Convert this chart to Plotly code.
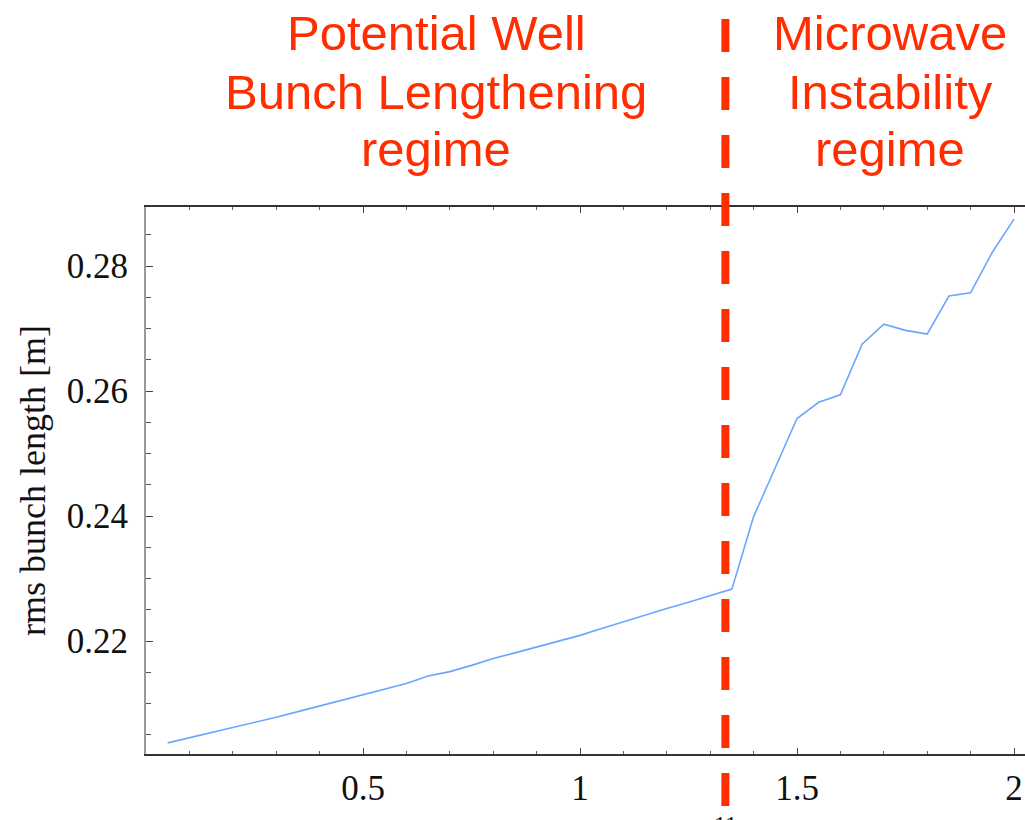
import plotly.graph_objects as go

# Data
intensity = [0.05, 0.10, 0.15, 0.20, 0.25, 0.30, 0.35, 0.40, 0.45, 0.50,
             0.55, 0.60, 0.65, 0.70, 0.75, 0.80, 0.85, 0.90, 0.95, 1.00,
             1.05, 1.10, 1.15, 1.20, 1.25, 1.30, 1.35, 1.40, 1.45, 1.50,
             1.55, 1.60, 1.65, 1.70, 1.75, 1.80, 1.85, 1.90, 1.95, 2.00]
bunch_length = [0.2037, 0.2045, 0.2053, 0.2061, 0.2070, 0.2078, 0.2087, 0.2096, 0.2105, 0.2113,
                0.2122, 0.2132, 0.2144, 0.2151, 0.2161, 0.2172, 0.2181, 0.2190, 0.2199, 0.2209,
                0.2220, 0.2231, 0.2241, 0.2252, 0.2262, 0.2272, 0.2283, 0.2399, 0.2478, 0.2556,
                0.2582, 0.2594, 0.2675, 0.2707, 0.2697, 0.2691, 0.2752, 0.2757, 0.2822, 0.2875]
threshold = 1.335
x_ticks = [0.5, 1, 1.5, 2]
x_ticklabels = ["0.5", "1", "1.5", "2"]
y_ticks = [0.22, 0.24, 0.26, 0.28]
y_ticklabels = ["0.22", "0.24", "0.26", "0.28"]
left_text = ["Potential Well", "Bunch Lengthening", "regime"]
right_text = ["Microwave", "Instability", "regime"]

RED = "#ff2d00"
W, H = 1025, 820
L, R, T, B = 146, 0, 207, 66
ph = H - T - B

def py(p):
    return (H - B - p) / ph

fig = go.Figure()
fig.add_trace(go.Scatter(x=intensity, y=bunch_length, mode="lines",
                         line=dict(color="#6aa6ff", width=1.6), showlegend=False,
                         hoverinfo="skip"))

fig.add_shape(type="line", xref="x", yref="paper", x0=threshold, x1=threshold,
              y0=py(19), y1=py(806), line=dict(color=RED, width=8, dash="33px,25px"),
              layer="above")

line_y = [33, 92, 149]
for txt, yy in zip(left_text, line_y):
    fig.add_annotation(x=(436 - L) / (W - L - R), y=py(yy), xref="paper", yref="paper",
                       text=txt, showarrow=False, xanchor="center", yanchor="middle",
                       font=dict(family="Liberation Sans, Arial", size=49, color=RED))
for txt, yy in zip(right_text, line_y):
    fig.add_annotation(x=(890 - L) / (W - L - R), y=py(yy), xref="paper", yref="paper",
                       text=txt, showarrow=False, xanchor="center", yanchor="middle",
                       font=dict(family="Liberation Sans, Arial", size=49, color=RED))

fig.add_annotation(x=threshold, y=py(809), xref="x", yref="paper", text="11",
                   showarrow=False, xanchor="center", yanchor="top",
                   font=dict(family="Liberation Serif, Times New Roman", size=24, color="#111"))

fig.update_layout(
    width=W, height=H,
    margin=dict(l=L, r=R, t=T, b=B, autoexpand=False),
    paper_bgcolor="white", plot_bgcolor="white",
    font=dict(family="Liberation Serif, Times New Roman", color="#111"),
    xaxis=dict(range=[0, (W - L - R) / 434], tickvals=x_ticks, ticktext=x_ticklabels,
               ticks="inside", ticklen=6, tickwidth=1, tickcolor="#444",
               minor=dict(tick0=0, dtick=0.1, ticks="inside", ticklen=3, tickcolor="#666"),
               showline=True, linecolor="#333", linewidth=2, mirror="ticks",
               showgrid=False, zeroline=False, tickfont=dict(size=35, color="#111"),
               ticklabelstandoff=2),
    yaxis=dict(range=[0.22 - (754 - 641) / 6250, 0.28 + (266 - 207) / 6250],
               tickvals=y_ticks, ticktext=y_ticklabels,
               ticks="inside", ticklen=7, tickwidth=1, tickcolor="#444",
               minor=dict(tick0=0.2, dtick=0.005, ticks="inside", ticklen=5, tickcolor="#555"),
               showline=True, linecolor="#999", linewidth=2, mirror=False,
               showgrid=False, zeroline=False, tickfont=dict(size=35, color="#111"),
               ticklabelstandoff=9,
               title=dict(text="rms bunch length [m]", font=dict(size=36, color="#111"),
                          standoff=10)),
)

fig.write_html("out.html", config={"displayModeBar": False},
               post_script="document.body.style.margin='0';document.body.style.overflow='hidden';")
